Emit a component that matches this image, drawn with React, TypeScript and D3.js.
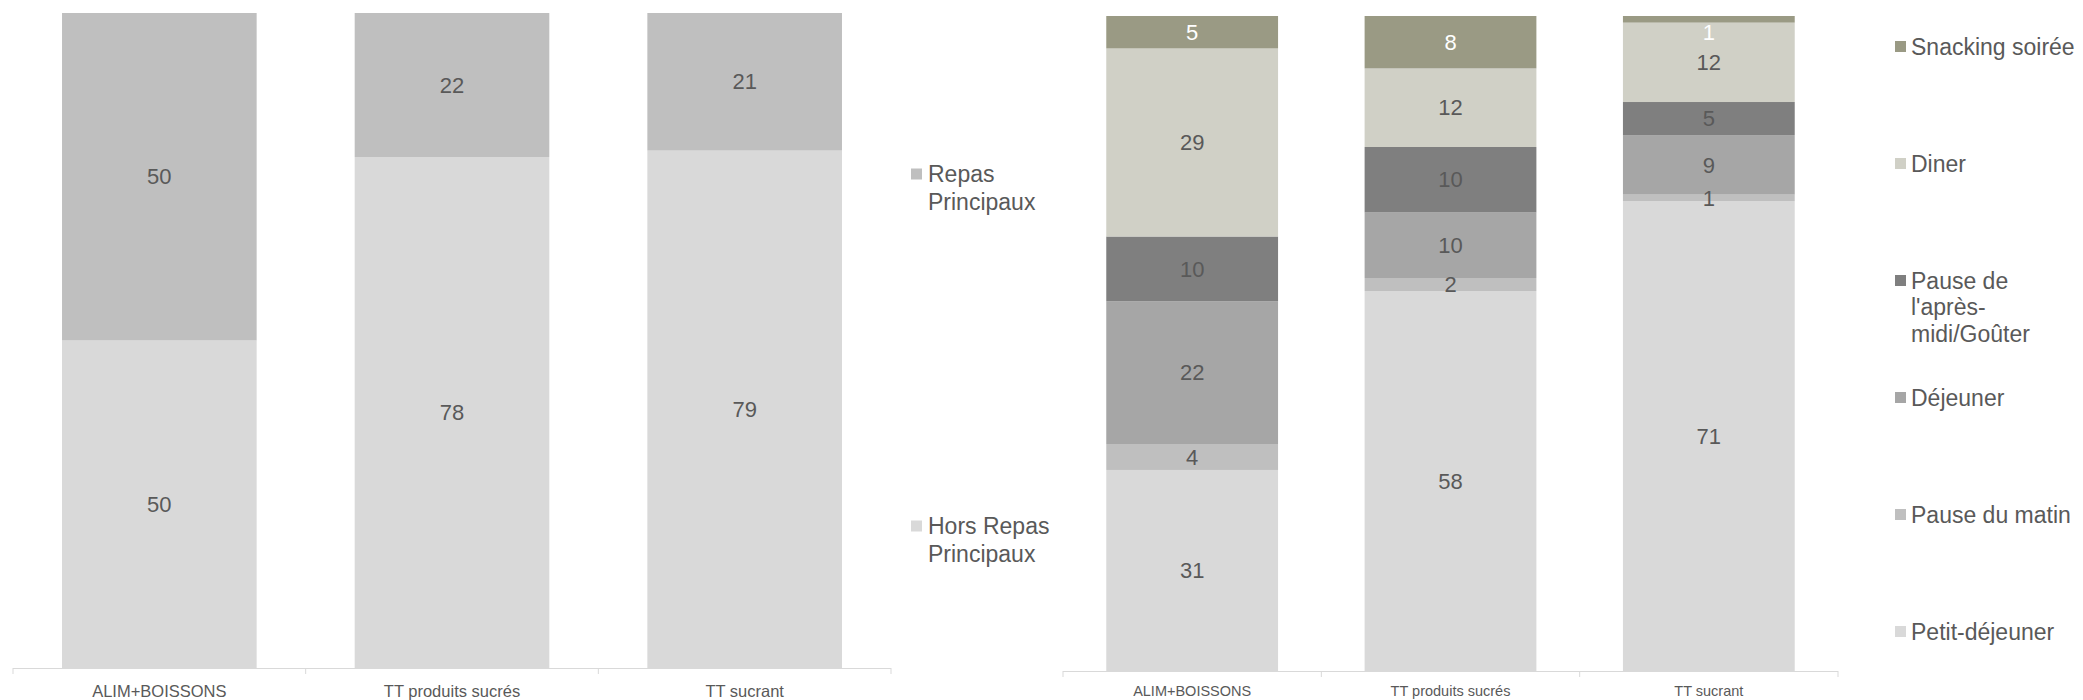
import React from "react";
import * as d3 from "d3";

const categories = ["ALIM+BOISSONS", "TT produits sucrés", "TT sucrant"];

// Left chart
const leftKeys = ["hors", "repas"];
const horsRepasPrincipaux = [50, 78, 79];
const repasPrincipaux = [50, 22, 21];
const leftLegend = [
  { key: "repas", lines: ["Repas", "Principaux"] },
  { key: "hors", lines: ["Hors Repas", "Principaux"] },
];

// Right chart
const rightKeys = ["petit", "matin", "dejeuner", "gouter", "diner", "snacking"];
const petitDejeuner = [31, 58, 71];
const pauseMatin = [4, 2, 1];
const dejeuner = [22, 10, 9];
const pauseGouter = [10, 10, 5];
const diner = [29, 12, 12];
const snackingSoiree = [5, 8, 1];
const rightLegend = [
  { key: "snacking", lines: ["Snacking soirée"] },
  { key: "diner", lines: ["Diner"] },
  { key: "gouter", lines: ["Pause de", "l'après-", "midi/Goûter"] },
  { key: "dejeuner", lines: ["Déjeuner"] },
  { key: "matin", lines: ["Pause du matin"] },
  { key: "petit", lines: ["Petit-déjeuner"] },
];

const colors: Record<string, string> = {
  hors: "#D9D9D9",
  repas: "#BFBFBF",
  petit: "#D9D9D9",
  matin: "#BFBFBF",
  dejeuner: "#A6A6A6",
  gouter: "#7F7F7F",
  diner: "#D0D0C6",
  snacking: "#9A9A84",
};
const labelColors: Record<string, string> = { snacking: "#FFFFFF" };

const FONT = "'Liberation Sans', Arial, sans-serif";
const TEXT = "#595959";

function StackedChart(props: {
  rows: Record<string, number | string>[];
  keys: string[];
  x0: number;
  x1: number;
  top: number;
  bottom: number;
  valueSize: number;
  catSize: number;
}) {
  const { rows, keys, x0, x1, top, bottom, valueSize, catSize } = props;
  const x = d3
    .scaleBand<string>()
    .domain(categories)
    .range([x0, x1])
    .paddingInner(0.335)
    .paddingOuter(0.1675);
  const y = d3.scaleLinear().domain([0, 1]).range([bottom, top]);
  const stack = d3
    .stack<any>()
    .keys(keys)
    .offset(d3.stackOffsetExpand)(rows);
  const step = x.step();
  const edges = d3.range(categories.length + 1).map((i) => x0 + i * step);
  return (
    <g>
      {stack.map((layer) => (
        <g key={layer.key}>
          {layer.map((d, i) => (
            <rect
              key={i}
              x={x(categories[i])}
              width={x.bandwidth()}
              y={y(d[1])}
              height={y(d[0]) - y(d[1])}
              fill={colors[layer.key]}
            />
          ))}
        </g>
      ))}
      {stack.map((layer) => (
        <g key={"l" + layer.key}>
          {layer.map((d, i) => {
            const cy = Math.max((y(d[0]) + y(d[1])) / 2, top + 16);
            return (
              <text
                key={i}
                x={(x(categories[i]) as number) + x.bandwidth() / 2}
                y={cy}
                dy="0.35em"
                textAnchor="middle"
                fontSize={valueSize}
                fontFamily={FONT}
                fill={labelColors[layer.key] || TEXT}
              >
                {(rows[i] as any)[layer.key]}
              </text>
            );
          })}
        </g>
      ))}
      <line x1={x0} x2={x1} y1={bottom + 0.5} y2={bottom + 0.5} stroke="#D9D9D9" strokeWidth={1} />
      {edges.map((e, i) => (
        <line key={i} x1={e} x2={e} y1={bottom} y2={bottom + 6} stroke="#D9D9D9" strokeWidth={1} />
      ))}
      {categories.map((c) => (
        <text
          key={c}
          x={(x(c) as number) + x.bandwidth() / 2}
          y={691}
          dy="0.35em"
          textAnchor="middle"
          fontSize={catSize}
          fontFamily={FONT}
          fill={TEXT}
        >
          {c}
        </text>
      ))}
    </g>
  );
}

function Legend(props: {
  items: { key: string; lines: string[] }[];
  sqX: number;
  textX: number;
  y0: number;
  step: number;
  lineH: number;
  size: number;
}) {
  const { items, sqX, textX, y0, step, lineH, size } = props;
  return (
    <g>
      {items.map((it, i) => {
        const cy = y0 + i * step;
        return (
          <g key={it.key}>
            <rect x={sqX} y={cy - 5.5} width={11} height={11} fill={colors[it.key]} />
            {it.lines.map((ln, j) => (
              <text
                key={j}
                x={textX}
                y={cy + j * lineH}
                dy="0.35em"
                fontSize={size}
                fontFamily={FONT}
                fill={TEXT}
              >
                {ln}
              </text>
            ))}
          </g>
        );
      })}
    </g>
  );
}

export default function App() {
  const leftRows = categories.map((c, i) => ({
    cat: c,
    hors: horsRepasPrincipaux[i],
    repas: repasPrincipaux[i],
  }));
  const rightRows = categories.map((c, i) => ({
    cat: c,
    petit: petitDejeuner[i],
    matin: pauseMatin[i],
    dejeuner: dejeuner[i],
    gouter: pauseGouter[i],
    diner: diner[i],
    snacking: snackingSoiree[i],
  }));
  return (
    <svg
      width={2083}
      height={700}
      style={{ position: "absolute", left: 0, top: 0, background: "#FFFFFF" }}
    >
      <StackedChart
        rows={leftRows}
        keys={leftKeys}
        x0={13}
        x1={891}
        top={13}
        bottom={668}
        valueSize={22}
        catSize={16.5}
      />
      <Legend items={leftLegend} sqX={911} textX={928} y0={174} step={352} lineH={28} size={23} />
      <StackedChart
        rows={rightRows}
        keys={rightKeys}
        x0={1063}
        x1={1838}
        top={16}
        bottom={671}
        valueSize={22}
        catSize={14.5}
      />
      <Legend items={rightLegend} sqX={1895} textX={1911} y0={46.5} step={117} lineH={26.5} size={23} />
    </svg>
  );
}
